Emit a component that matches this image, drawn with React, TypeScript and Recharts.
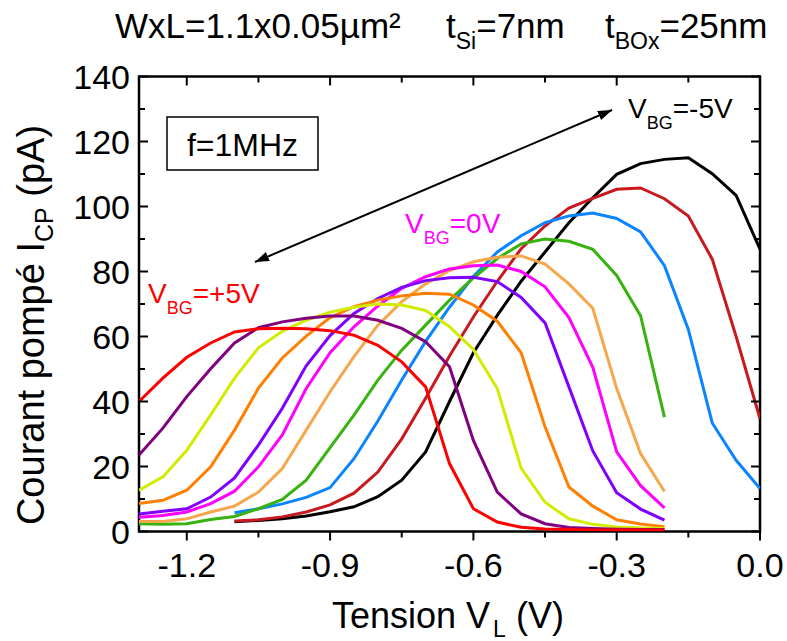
import { LineChart, Line, XAxis, YAxis, ReferenceArea } from 'recharts';

// Tension V_L (V)
const tension = [
  -1.3, -1.25, -1.2, -1.15, -1.1, -1.05, -1.0, -0.95, -0.9, -0.85, -0.8, -0.75, -0.7, -0.65,
  -0.6, -0.55, -0.5, -0.45, -0.4, -0.35, -0.3, -0.25, -0.2, -0.15, -0.1, -0.05, 0,
];

// Courant pompé I_CP (pA), one array per back-gate voltage
const vbgPlus5 = [40, 47.2, 53.6, 58, 61.4, 62.4, 62.5, 62.4, 61.8, 60.4, 57.3, 52.2, 44.5, 20.9, 7, 2.9, 1.3, 0.8, 0.6, 0.5, 0.5, 0.5, 0.5, null, null, null, null];
const vbgPlus4 = [23.5, 31.8, 41.5, 50.1, 58, 62.7, 64.5, 65.6, 66.3, 66.3, 65, 62.5, 58.4, 50.7, 28, 12.1, 5.4, 2.4, 1.2, 0.9, 0.7, 0.6, 0.6, null, null, null, null];
const vbgPlus3 = [12.7, 16.8, 25, 35.9, 47.2, 56.5, 61.6, 65, 67.5, 69, 70, 69.7, 68, 63, 56, 44, 19.5, 9, 3.9, 2.2, 1.4, 1.1, 0.9, null, null, null, null];
const vbgPlus2 = [8.6, 9.6, 12.7, 19.9, 31.2, 44.1, 53.4, 60.1, 65.8, 69.2, 71.2, 72.5, 73.3, 73, 69.7, 64.7, 55, 32.2, 13.7, 7.8, 3.6, 2.3, 1.5, null, null, null, null];
const vbgPlus1 = [5.4, 6.2, 7, 10.6, 16.5, 26.6, 37.9, 51, 60.3, 67.1, 71.7, 75.1, 77.2, 78.1, 78.2, 76.9, 72, 64.2, 44.5, 24.8, 11.9, 6.9, 3.5, null, null, null, null];
const vbgZero = [4.4, 4.9, 6, 8.6, 12.4, 19.9, 29.7, 44, 55, 63, 69.4, 74.8, 78.4, 80.8, 81.8, 82, 80, 75.3, 65.8, 50.5, 24.5, 14.1, 7.3, null, null, null, null];
const vbgMinus1 = [3.1, 3.1, 3.9, 6, 7.8, 12.1, 19.4, 31.2, 43, 53.8, 63.5, 70.7, 76.2, 80.3, 83, 84.4, 84.8, 82.3, 76.2, 68.7, 44, 24, 12.3, null, null, null, null];
const vbgMinus2 = [2.4, 2.2, 2.4, 3.7, 4.6, 7, 9.9, 15.8, 25.8, 35.8, 46.6, 55.8, 63.5, 71.2, 78, 84, 88.5, 90, 89.3, 86.8, 78.8, 66.4, 35.2, null, null, null, null];
const vbgMinus3 = [null, null, null, null, 5.8, 7, 8.5, 10.5, 13.5, 22.4, 34, 46.6, 58.5, 69, 78.5, 86, 91, 95, 97.1, 98, 96.3, 92.2, 81.8, 62.2, 33.4, 21.9, 13.2];
const vbgMinus4 = [null, null, null, null, 3.2, 3.6, 4.5, 6, 8.2, 11.8, 18.3, 28.5, 41, 54, 66, 77, 87, 94, 99.5, 102.5, 105.3, 105.7, 102.4, 97.1, 83.8, 60, 34.7];
const vbgMinus5 = [null, null, null, null, 3, 3.4, 3.9, 4.8, 6.1, 7.6, 10.7, 15.8, 24.5, 40, 55, 66.5, 77, 86, 95, 102.7, 109.9, 113.2, 114.5, 115, 110.1, 103.4, 86.9];

const xTicks = [-1.2, -1.05, -0.9, -0.75, -0.6, -0.45, -0.3, -0.15, 0];
const xMajor = [-1.2, -0.9, -0.6, -0.3, 0];
const yTicks = [0, 10, 20, 30, 40, 50, 60, 70, 80, 90, 100, 110, 120, 130, 140];

// drawn from -5V up to +5V so the red curve ends on top
const series = [
  { key: 'm5', color: '#000000', values: vbgMinus5 },
  { key: 'm4', color: '#c81a1e', values: vbgMinus4 },
  { key: 'm3', color: '#0a84ff', values: vbgMinus3 },
  { key: 'm2', color: '#37b20f', values: vbgMinus2 },
  { key: 'm1', color: '#f6a74c', values: vbgMinus1 },
  { key: 'z0', color: '#ff00ff', values: vbgZero },
  { key: 'p1', color: '#8000ff', values: vbgPlus1 },
  { key: 'p2', color: '#ff7f00', values: vbgPlus2 },
  { key: 'p3', color: '#d2eb00', values: vbgPlus3 },
  { key: 'p4', color: '#800080', values: vbgPlus4 },
  { key: 'p5', color: '#ff0000', values: vbgPlus5 },
];

const data = tension.map((v, i) => {
  const row: Record<string, number | null> = { v };
  series.forEach((s) => {
    row[s.key] = s.values[i];
  });
  return row;
});

const W = 787;
const H = 641;
const MARGIN = { top: 76.5, right: 27, bottom: 0, left: 0 };
const Y_AXIS_W = 139;
const X_AXIS_H = 109.5;
const PLOT_W = W - MARGIN.left - MARGIN.right - Y_AXIS_W;
const PLOT_H = H - MARGIN.top - MARGIN.bottom - X_AXIS_H;
const FONT = '"Liberation Sans", Arial, sans-serif';
const TICK_FONT = 34;

function XTick({ x, y, payload }: any) {
  const major = xMajor.includes(payload.value);
  const len = major ? 9 : 6;
  return (
    <g>
      <line x1={x} y1={y} x2={x} y2={y + len} stroke="#000" strokeWidth={2} />
      <line x1={x} y1={y - PLOT_H} x2={x} y2={y - PLOT_H + len} stroke="#000" strokeWidth={2} />
      {major && (
        <text x={x} y={y + 45.5} textAnchor="middle" fontSize={TICK_FONT} fontFamily={FONT} fill="#000">
          {payload.value.toFixed(1)}
        </text>
      )}
    </g>
  );
}

function YTick({ x, y, payload }: any) {
  const major = payload.value % 20 === 0;
  const len = major ? 9 : 6;
  return (
    <g>
      <line x1={x} y1={y} x2={x + len} y2={y} stroke="#000" strokeWidth={2} />
      <line x1={x + PLOT_W} y1={y} x2={x + PLOT_W - len} y2={y} stroke="#000" strokeWidth={2} />
      {major && (
        <text x={x - 9} y={y + 12} textAnchor="end" fontSize={TICK_FONT} fontFamily={FONT} fill="#000">
          {payload.value}
        </text>
      )}
    </g>
  );
}

function VbgLabel({ x, y, color, value }: { x: number; y: number; color: string; value: string }) {
  return (
    <text x={x} y={y} fill={color} fontSize={28} fontFamily={FONT}>
      V
      <tspan fontSize={18} dy={11}>BG</tspan>
      <tspan dy={-11}>{value}</tspan>
    </text>
  );
}

export default function App() {
  return (
    <div style={{ position: 'absolute', left: 0, top: 0, width: W, height: H, background: '#fff' }}>
      <LineChart width={W} height={H} data={data} margin={MARGIN}>
        <XAxis
          dataKey="v"
          type="number"
          domain={[-1.3, 0]}
          ticks={xTicks}
          interval={0}
          allowDataOverflow
          height={X_AXIS_H}
          axisLine={false}
          tickLine={false}
          tickSize={0}
          tickMargin={0}
          tick={<XTick />}
        />
        <YAxis
          type="number"
          domain={[0, 140]}
          ticks={yTicks}
          interval={0}
          allowDataOverflow
          width={Y_AXIS_W}
          axisLine={false}
          tickLine={false}
          tickSize={0}
          tickMargin={0}
          tick={<YTick />}
        />
        {series.map((s) => (
          <Line
            key={s.key}
            dataKey={s.key}
            type="linear"
            stroke={s.color}
            strokeWidth={3}
            dot={false}
            activeDot={false}
            connectNulls={false}
            isAnimationActive={false}
          />
        ))}
        <ReferenceArea x1={-1.3} x2={0} y1={0} y2={140} fill="none" stroke="#000" strokeWidth={2.5} />
      </LineChart>

      <svg
        width={W}
        height={H}
        style={{ position: 'absolute', left: 0, top: 0, pointerEvents: 'none' }}
        fontFamily={FONT}
      >
        <defs>
          <marker
            id="head"
            viewBox="0 0 14 10"
            refX={14}
            refY={5}
            markerWidth={14}
            markerHeight={10}
            markerUnits="userSpaceOnUse"
            orient="auto-start-reverse"
          >
            <path d="M0,0 L14,5 L0,10 z" fill="#000" />
          </marker>
        </defs>

        <text x={115} y={38} fontSize={35} fill="#000">
          WxL=1.1x0.05µm²
          <tspan x={446}>t</tspan>
          <tspan fontSize={23} dy={11}>Si</tspan>
          <tspan dy={-11}>=7nm</tspan>
          <tspan x={605}>t</tspan>
          <tspan fontSize={23} dy={11}>BOx</tspan>
          <tspan dy={-11}>=25nm</tspan>
        </text>

        <text transform="rotate(-90)" x={-325} y={44} textAnchor="middle" fontSize={38} fill="#000">
          Courant pompé I<tspan fontSize={25} dy={9}>CP</tspan>
          <tspan dy={-9}> (pA)</tspan>
        </text>

        <text x={332} y={628} fontSize={36} fill="#000">
          Tension V<tspan fontSize={23} dy={9} dx={3}>L</tspan>
          <tspan dy={-9}> (V)</tspan>
        </text>

        <rect x={167} y={117} width={151} height={53} fill="#fff" stroke="#000" strokeWidth={1.5} />
        <text x={242.5} y={156} textAnchor="middle" fontSize={32} fill="#000">
          f=1MHz
        </text>

        <line
          x1={255}
          y1={262}
          x2={612}
          y2={110}
          stroke="#000"
          strokeWidth={2}
          markerStart="url(#head)"
          markerEnd="url(#head)"
        />

        <VbgLabel x={628} y={118} color="#000" value="=-5V" />
        <VbgLabel x={405} y={233} color="#ff00ff" value="=0V" />
        <VbgLabel x={148} y={303} color="#ff0000" value="=+5V" />
      </svg>
    </div>
  );
}
